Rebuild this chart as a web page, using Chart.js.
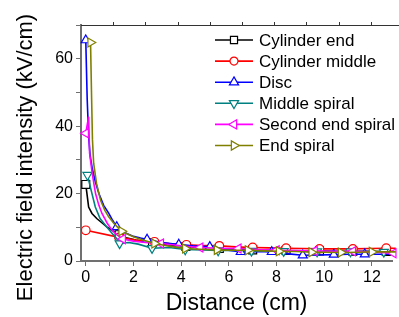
<!DOCTYPE html>
<html>
<head>
<meta charset="utf-8">
<script src="https://cdn.jsdelivr.net/npm/chart.js@4/dist/chart.umd.min.js"></script>
<style>
html,body{margin:0;padding:0;background:#fff;overflow:hidden;}
#c{display:block;}
</style>
</head>
<body>
<canvas id="c" width="399" height="317"></canvas>
<script>
// ---- data ----
const seriesNames = ["Cylinder end","Cylinder middle","Disc","Middle spiral","Second end spiral","End spiral"];

const xCylEnd = [0,0.12,0.26,0.46,0.7,0.88,1.05,1.22,1.4,1.7,2.1,2.5,2.8,3.4,4.2,4.9,5.6,6.3,7.0,7.7,8.4,9.1,9.8,10.5,11.2,11.9,12.6,13.0];
const yCylEnd = [22.7,16,14.1,12.6,11.2,10.1,9.3,8.6,7.8,6.9,6.2,5.7,5.4,4.8,4.3,4.0,3.7,3.5,3.3,3.2,3.1,3.0,3.0,2.9,2.9,2.9,2.8,2.8];
const mCylEnd = [0,8,12,14,16,18,20,22,24,26];

const xCylMid = [0,1.4,2.1,2.88,3.5,4.22,4.9,5.6,6.3,7.0,7.7,8.4,9.1,9.8,10.5,11.2,11.9,12.6,13.0];
const yCylMid = [9.1,7.0,6.2,5.7,5.2,4.8,4.6,4.5,4.2,4.0,3.9,3.8,3.7,3.6,3.6,3.6,3.7,3.8,3.8];
const mCylMid = [0,1,3,5,7,9,11,13,15,17];

const xDisc = [0,0.06,0.12,0.18,0.27,0.4,0.55,0.75,0.96,1.13,1.3,1.6,2.0,2.3,2.57,3.2,3.9,4.5,5.2,5.9,6.5,7.2,7.8,8.4,9.1,9.8,10.4,11.0,11.7,12.3,13.0];
const yDisc = [65.5,48,37,31.5,27.5,23.5,20,16.5,14.2,12,10.1,8.5,7.3,6.8,6.4,5.5,4.9,4.5,4.2,3.3,2.7,2.8,2.7,2.2,1.7,1.8,1.9,2.0,2.0,2.0,2.0];
const mDisc = [0,10,14,16,18,20,22,24,26,28];

const xMidSp = [0.07,0.19,0.4,0.6,0.88,1.1,1.29,1.42,1.8,2.2,2.78,3.5,4.17,4.9,5.55,6.25,6.95,7.6,8.3,9.0,9.7,10.4,11.1,11.8,12.5,13.0];
const yMidSp = [25.5,22,16,12.6,10.1,8.2,6.7,5.2,5.5,5.0,3.8,4.0,3.4,3.3,3.1,3.2,3.0,3.0,2.9,2.9,2.8,2.8,2.8,2.8,2.7,2.7];
const mMidSp = [0,7,10,12,14,16,18,20,22,24];

const xSecSp = [0,0.12,0.16,0.27,0.41,0.55,0.68,0.9,1.1,1.3,1.55,2.0,2.5,3.15,4.0,4.8,5.6,6.4,7.2,8.0,8.8,9.6,10.4,11.2,12.0,12.9];
const ySecSp = [37.9,42.8,32,26,20,16.5,14.1,11.2,9.1,7.8,6.5,5.9,5.5,5.2,4.5,4.0,3.8,3.7,3.4,3.2,3.1,3.0,2.9,2.9,2.7,2.3];
const mSecSp = [0,10,13,15,17,19,21,23,25];

const xEndSp = [0.2,0.24,0.28,0.33,0.45,0.62,0.8,0.96,1.2,1.5,2.0,2.4,2.88,3.5,4.17,4.8,5.5,6.1,6.8,7.5,8.1,8.8,9.47,10.1,10.7,11.4,12.0,12.6,13.0];
const yEndSp = [64.8,50,36,29,23,18,15,13.1,11,8.8,7.2,6.2,5.2,4.4,3.7,3.5,3.3,3.2,3.2,3.0,2.9,2.8,2.6,2.6,2.5,2.6,2.7,2.7,2.7];
const mEndSp = [0,9,12,14,16,18,20,22,24,26];

const yTickLabels = [0,20,40,60];
const xTickLabels = [0,2,4,6,8,10,12];

// ---- styles ----
const colors = ["#000000","#FF0000","#0000FF","#008080","#FF00FF","#808000"];
const styles = [["rect",0,5.6],["circle",0,4.3],["triangle",0,5.2],["triangle",180,5.2],["triangle",270,5.2],["triangle",90,5.2]];
const xs = [xCylEnd,xCylMid,xDisc,xMidSp,xSecSp,xEndSp];
const ys = [yCylEnd,yCylMid,yDisc,yMidSp,ySecSp,yEndSp];
const ms = [mCylEnd,mCylMid,mDisc,mMidSp,mSecSp,mEndSp];

const FONT = "'Liberation Sans', Arial, sans-serif";

const datasets = seriesNames.map((name,i)=>({
  label: name,
  data: xs[i].map((x,j)=>({x:x,y:ys[i][j]})),
  borderColor: colors[i],
  backgroundColor: "#ffffff",
  borderWidth: 1.6,
  tension: 0,
  pointStyle: styles[i][0],
  rotation: styles[i][1],
  pointRadius: ctx => ms[i].includes(ctx.dataIndex) ? styles[i][2] : 0,
  pointBorderWidth: 1.2,
  pointBorderColor: colors[i],
  pointBackgroundColor: "#ffffff",
  clip: false,
  order: 5 - i
}));

function drawMarker(ctx, style, rot, x, y, r, color){
  ctx.save();
  ctx.translate(x,y);
  ctx.rotate(rot*Math.PI/180);
  ctx.beginPath();
  if(style==="rect"){ const s=r*Math.SQRT1_2; ctx.rect(-s,-s,2*s,2*s); }
  else if(style==="circle"){ ctx.arc(0,0,r,0,Math.PI*2); }
  else { ctx.moveTo(0,-r); ctx.lineTo(r*0.866,r*0.5); ctx.lineTo(-r*0.866,r*0.5); ctx.closePath(); }
  ctx.fillStyle="#fff"; ctx.fill();
  ctx.lineWidth=1.2; ctx.strokeStyle=color; ctx.stroke();
  ctx.restore();
}

const decor = {
  id:'decor',
  afterDraw(chart){
    const ctx = chart.ctx, ca = chart.chartArea;
    ctx.save();
    // top frame line with small outward ticks
    ctx.strokeStyle="#333"; ctx.lineWidth=1;
    ctx.beginPath(); ctx.moveTo(ca.left, ca.top+0.5); ctx.lineTo(chart.width, ca.top+0.5); ctx.stroke();
    ctx.beginPath();
    for(let x=ca.left+32.2; x<chart.width; x+=32.2){ ctx.moveTo(Math.round(x)+0.5, ca.top); ctx.lineTo(Math.round(x)+0.5, ca.top-3); }
    ctx.stroke();
    // axis titles
    ctx.fillStyle="#000";
    ctx.font = "23px " + FONT;
    ctx.textAlign="center"; ctx.textBaseline="alphabetic";
    ctx.fillText("Distance (cm)", (ca.left+ca.right)/2, 310);
    ctx.save();
    ctx.translate(32, 157.5);
    ctx.rotate(-Math.PI/2);
    ctx.font = "22px " + FONT;
    ctx.fillText("Electric field intensity (kV/cm)", 0, 0);
    ctx.restore();
    // legend
    ctx.font = "17px " + FONT;
    ctx.textAlign="left"; ctx.textBaseline="middle";
    const legendR = [3.6*1.414/1.0*0.75, 4, 5.3, 5.3, 5.3, 5.3];
    seriesNames.forEach((n,i)=>{
      const y = 40 + i*21.1;
      ctx.strokeStyle=colors[i]; ctx.lineWidth=1.6;
      ctx.beginPath(); ctx.moveTo(215,y); ctx.lineTo(253,y); ctx.stroke();
      drawMarker(ctx, styles[i][0], styles[i][1], 234, y, i===0?5:legendR[i], colors[i]);
      ctx.fillStyle="#000";
      ctx.fillText(n, 259, y+1);
    });
    ctx.restore();
  }
};

new Chart(document.getElementById('c'), {
  type:'line',
  data:{datasets:datasets},
  plugins:[decor],
  options:{
    responsive:false,
    animation:false,
    devicePixelRatio:1,
    layout:{padding:{top:25,right:0,left:0,bottom:0}},
    plugins:{legend:{display:false},tooltip:{enabled:false}},
    scales:{
      x:{
        type:'linear', min:-0.2, max:12.85,
        afterFit(s){ s.height = 56; },
        border:{display:true,color:"#707070",width:2},
        grid:{drawOnChartArea:false, color:"#707070", tickLength:5, lineWidth:1},
        ticks:{stepSize:1, includeBounds:false, autoSkip:false, maxRotation:0, padding:2,
          color:"#000", font:{family:FONT,size:16},
          callback:v => xTickLabels.includes(v) ? String(v) : ''}
      },
      y:{
        type:'linear', min:0, max:70,
        afterFit(s){ s.width = 81; },
        border:{display:true,color:"#707070",width:2},
        grid:{drawOnChartArea:false, color:"#707070", tickLength:5, lineWidth:1},
        ticks:{stepSize:10, includeBounds:false, autoSkip:false, padding:3,
          color:"#000", font:{family:FONT,size:16},
          callback:v => yTickLabels.includes(v) ? String(v) : ''}
      }
    }
  }
});
</script>
</body>
</html>
